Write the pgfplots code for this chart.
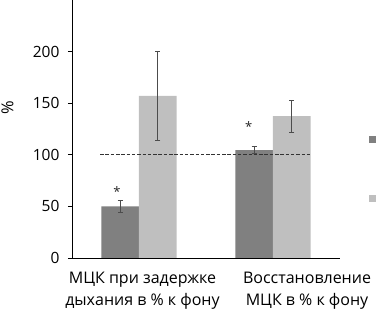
\documentclass[border=0pt]{standalone}
\usepackage{pgfplots}
\pgfplotsset{compat=1.18}
\usepackage{fontspec}
\setmainfont{Open Sans}
\begin{document}
\begin{tikzpicture}
\begin{axis}[
  scale only axis, width=268pt, height=258pt,
  xmin=-0.5, xmax=1.5, ymin=0, ymax=250,
  axis x line*=bottom, axis y line*=left,
  axis line style={black, line width=0.8pt},
  ytick={0,50,100,150,200},
  tick align=outside, major tick length=4pt,
  y tick style={black, line width=0.6pt},
  xtick={0.026,1.254},
  xticklabels={МЦК при задержке\\дыхания в \% к фону, Восстановление\\МЦК в \% к фону},
  x tick style={draw=none},
  xticklabel style={align=center, font=\fontsize{16}{22}\selectfont, yshift=-7pt},
  yticklabel style={font=\fontsize{15.5}{19}\selectfont, xshift=-5pt},
  /pgf/number format/assume math mode=true,
  ylabel={\%},
  every axis y label/.style={at={(axis description cs:-0.241,0.583)}, rotate=90, anchor=center, font=\fontsize{16.5}{19}\selectfont},
  legend style={at={(axis description cs:1.108,0.345)}, anchor=west, draw=none, fill=none, inner sep=0pt, row sep=52pt, nodes={inner sep=0pt}},
  legend image code/.code={\fill[#1] (0pt,-3.5pt) rectangle (7pt,3.5pt);},
  clip=false,
]
\addplot[ybar, bar width=0.28, bar shift=0pt, fill=black!50, draw=none,
  error bars/.cd, y dir=both, y explicit,
  error bar style={color=black!70, line width=1.1pt},
  error mark options={rotate=90, mark size=2.5pt, color=black!70, line width=1.1pt}]
  coordinates {(-0.14,50) +- (0,5.5) (0.86,104.5) +- (0,3.5)};
\addlegendentry{}
\addplot[ybar, bar width=0.28, bar shift=0pt, fill=black!25, draw=none,
  error bars/.cd, y dir=both, y explicit,
  error bar style={color=black!70, line width=1.1pt},
  error mark options={rotate=90, mark size=2.5pt, color=black!70, line width=1.1pt}]
  coordinates {(0.14,157) +- (0,43) (1.14,137.5) +- (0,15.5)};
\addlegendentry{}
\addplot[black!80, dash pattern=on 3.5pt off 1.8pt, line width=1.3pt, forget plot] coordinates {(-0.29,100) (1.28,100)};
\node[font=\fontsize{13}{13}\selectfont, text=black!85] at (axis cs:-0.164,64) {*};
\node[font=\fontsize{13}{13}\selectfont, text=black!85] at (axis cs:0.819,127.8) {*};
\end{axis}
\pgfresetboundingbox
\path (-72pt,-54pt) rectangle (304pt,258pt);
\end{tikzpicture}
\end{document}
